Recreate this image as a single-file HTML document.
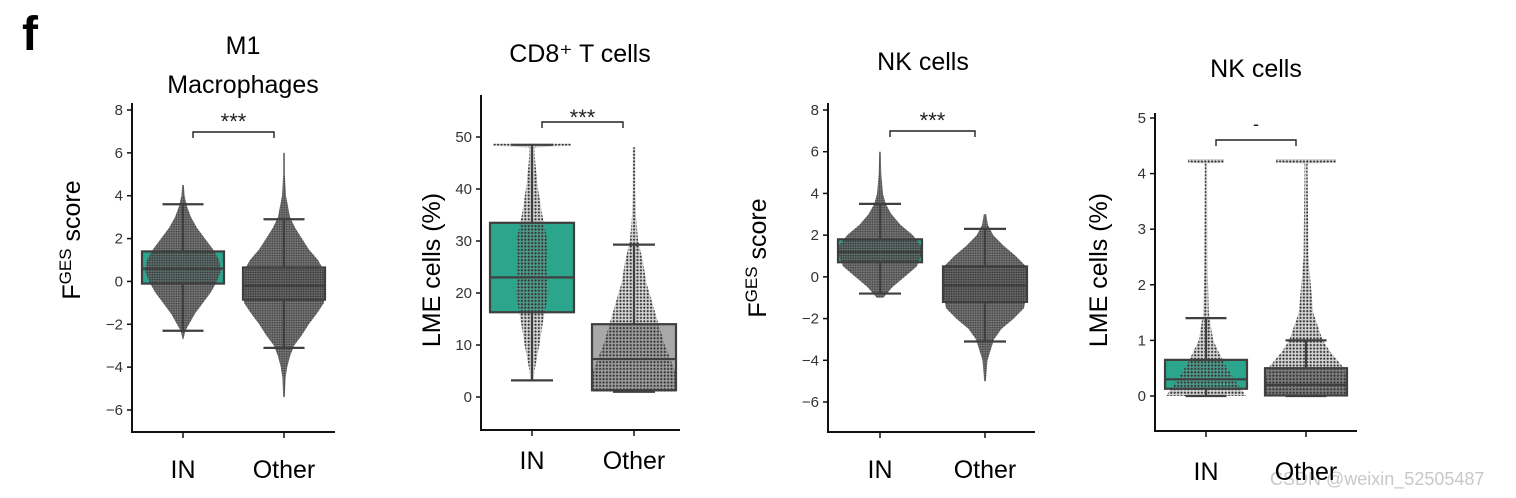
<!DOCTYPE html>
<html><head><meta charset="utf-8">
<style>
html,body{margin:0;padding:0;background:#fff;width:1516px;height:498px;overflow:hidden}
svg{display:block;font-family:"Liberation Sans",sans-serif}
</style></head>
<body>
<svg id="fig" width="1516" height="498" viewBox="0 0 1516 498">
<defs>
<pattern id="dense" width="2.4" height="2.4" patternUnits="userSpaceOnUse"><rect width="2.4" height="2.4" fill="#6a6a6a"/><circle cx="1.2" cy="1.2" r="0.9" fill="#2e2e2e"/></pattern>
<pattern id="sparse" width="3.4" height="3.4" patternUnits="userSpaceOnUse"><rect width="3.4" height="3.4" fill="#8a8a8a" fill-opacity="0.35"/><circle cx="1.7" cy="1.7" r="1.1" fill="#333"/></pattern>
</defs>
<text x="22" y="50" font-size="48" font-weight="bold">f</text>
<text x="1270" y="485" font-size="18" fill="#c8c8c8">CSDN @weixin_52505487</text>
</svg>
<script>
// ---- data arrays ----
const categories = ["IN", "Other"];
const p1Boxes = [[-2.3,-0.1,0.6,1.4,3.6],[-3.1,-0.85,-0.2,0.65,2.9]];
const p2Boxes = [[3.2,16.3,23,33.5,48.5],[1,1.3,7.3,14,29.3]];
const p3Boxes = [[-0.8,0.7,1.2,1.8,3.5],[-3.1,-1.2,-0.4,0.5,2.3]];
const p4Boxes = [[0,0.13,0.3,0.65,1.4],[0,0.01,0.2,0.5,1.0]];
const p1Ticks = [-6,-4,-2,0,2,4,6,8];
const p2Ticks = [0,10,20,30,40,50];
const p3Ticks = [-6,-4,-2,0,2,4,6,8];
const p4Ticks = [0,1,2,3,4,5];
// swarm density profiles: [value, relative width]
const p1SwarmIN = [[-2.7,0.01],[-2.3,0.06],[-2,0.15],[-1.5,0.3],[-1,0.5],[-0.5,0.7],[0,0.85],[0.5,0.95],[1,0.9],[1.5,0.75],[2,0.55],[2.5,0.35],[3,0.2],[3.5,0.1],[4,0.04],[4.5,0.02]];
const p1SwarmOther = [[-5.4,0.02],[-4.5,0.04],[-4,0.08],[-3.5,0.15],[-3,0.25],[-2.5,0.45],[-2,0.62],[-1.5,0.82],[-1,1],[-0.5,1],[0,1],[0.5,1],[1,0.85],[1.5,0.62],[2,0.45],[2.5,0.28],[3,0.15],[3.5,0.1],[4,0.05],[5,0.02],[6,0.02]];
const p2SwarmIN = [[3,0.03],[5,0.06],[10,0.18],[15,0.28],[20,0.4],[25,0.35],[30,0.38],[35,0.25],[40,0.15],[45,0.08],[48,0.06],[48.3,0.95],[48.7,0.95]];
const p2SwarmOther = [[1,1],[3,1],[5,1],[7,0.9],[10,0.75],[14,0.6],[18,0.45],[22,0.3],[26,0.22],[30,0.1],[35,0.05],[40,0.03],[48,0.03]];
const p3SwarmIN = [[-1,0.08],[-0.5,0.3],[0,0.6],[0.5,0.9],[1,1],[1.5,1],[2,0.8],[2.5,0.5],[3,0.28],[3.5,0.14],[4,0.07],[5,0.03],[6,0.02]];
const p3SwarmOther = [[-5,0.02],[-4,0.06],[-3,0.22],[-2.5,0.4],[-2,0.7],[-1.5,0.95],[-1,1],[-0.5,1],[0,1],[0.5,1],[1,0.75],[1.5,0.45],[2,0.2],[2.5,0.07],[3,0.03]];
const p4SwarmIN = [[0,1],[0.1,0.9],[0.3,0.7],[0.6,0.45],[1,0.18],[1.5,0.07],[2.3,0.04],[4,0.03],[4.18,0.03],[4.2,0.45],[4.26,0.45]];
const p4SwarmOther = [[0,1],[0.3,1],[0.5,0.95],[0.8,0.6],[1,0.42],[1.5,0.18],[2.5,0.06],[4,0.04],[4.18,0.04],[4.2,0.75],[4.26,0.75]];

const NS="http://www.w3.org/2000/svg";
const svg=document.getElementById('fig');
function mk(tag,attrs,parent){const e=document.createElementNS(NS,tag);for(const k in attrs)e.setAttribute(k,attrs[k]);(parent||svg).appendChild(e);return e;}

const panels=[
 {key:"m1",ax:132,top:103,bot:432,right:335,v0:8,y0:110,v1:-6,y1:410,xs:[183,284],bw:82,boxes:p1Boxes,ticks:p1Ticks,sw:[p1SwarmIN,p1SwarmOther],pat:"dense",otherFace:"#777",
  titles:[["M1",243,54],["Macrophages",243,93]],ylab:"score",sup:true,ylx:80,yly:240,br:[193,274,132,"***",121],lab:478},
 {key:"cd8",ax:481,top:95,bot:430,right:680,v0:50,y0:137,v1:0,y1:397,xs:[532,634],bw:84,boxes:p2Boxes,ticks:p2Ticks,sw:[p2SwarmIN,p2SwarmOther],pat:"sparse",otherFace:"#a8a8a8",
  titles:[["CD8\u207A T cells",580,62]],ylab:"LME cells (%)",sup:false,ylx:440,yly:270,br:[542,623,122,"***",117],lab:469},
 {key:"nk-fges",ax:828,top:103,bot:432,right:1035,v0:8,y0:110,v1:-6,y1:402,xs:[880,985],bw:84,boxes:p3Boxes,ticks:p3Ticks,sw:[p3SwarmIN,p3SwarmOther],pat:"dense",otherFace:"#777",
  titles:[["NK cells",923,70]],ylab:"score",sup:true,ylx:766,yly:258,br:[890,975,131,"***",120],lab:478},
 {key:"nk-lme",ax:1155,top:113,bot:431,right:1357,v0:5,y0:118,v1:0,y1:396,xs:[1206,1306],bw:82,boxes:p4Boxes,ticks:p4Ticks,sw:[p4SwarmIN,p4SwarmOther],pat:"sparse",otherFace:"#777",
  titles:[["NK cells",1256,77]],ylab:"LME cells (%)",sup:false,ylx:1107,yly:270,br:[1216,1296,140,"-",130],lab:480}
];

panels.forEach(p=>{
 const g=mk('g',{},svg);
 
 
 const Y=v=>p.y0+(v-p.v0)*(p.y1-p.y0)/(p.v1-p.v0);
 p.titles.forEach(t=>{const e=mk('text',{x:t[1],y:t[2],'font-size':25,'text-anchor':'middle'},g);e.textContent=t[0];
  
  });
 const ya=mk('line',{x1:p.ax,y1:p.top,x2:p.ax,y2:p.bot,stroke:'#111','stroke-width':2},g);
 
 
 const xa=mk('line',{x1:p.ax-1,y1:p.bot,x2:p.right,y2:p.bot,stroke:'#111','stroke-width':2},g);
 
 
 p.ticks.forEach(t=>{const y=Y(t);mk('line',{x1:p.ax-5,y1:y,x2:p.ax,y2:y,stroke:'#111','stroke-width':1.5},g);
  const e=mk('text',{x:p.ax-9,y:y+5,'font-size':15,'text-anchor':'end',fill:'#333'},g);e.textContent=t<0?'\u2212'+(-t):String(t);
  
  });
 const yl=mk('text',{transform:`translate(${p.ylx},${p.yly}) rotate(-90)`,'font-size':25,'text-anchor':'middle'},g);
 
 
 if(p.sup){const a=mk('tspan',{},yl);a.textContent='F';const b=mk('tspan',{dy:-9,'font-size':17},yl);b.textContent='GES';const c=mk('tspan',{dy:9},yl);c.textContent=' score';}
 else yl.textContent=p.ylab;
 p.xs.forEach((x,i)=>{
  mk('line',{x1:x,y1:p.bot,x2:x,y2:p.bot+6,stroke:'#111','stroke-width':1.5},g);
  const e=mk('text',{x:x,y:p.lab,'font-size':25,'text-anchor':'middle'},g);e.textContent=categories[i];
  
  
  const b=p.boxes[i];const hw=p.bw/2;
  const face=mk('rect',{x:x-hw,y:Y(b[3]),width:p.bw,height:Y(b[1])-Y(b[3]),fill:i==0?'#2ca58d':p.otherFace},g);
  
  
  const prof=p.sw[i];let pts=[];
  prof.forEach(d=>pts.push([x+d[1]*(hw-1),Y(d[0])]));
  for(let k=prof.length-1;k>=0;k--)pts.push([x-prof[k][1]*(hw-1),Y(prof[k][0])]);
  const sw=mk('polygon',{points:pts.map(q=>q[0].toFixed(1)+','+q[1].toFixed(1)).join(' '),fill:`url(#${p.pat})`,opacity:p.pat=='dense'?0.9:1},g);
  
  
  const st={stroke:'#3f3f3f','stroke-width':2.2,fill:'none'};
  mk('line',Object.assign({x1:x,y1:Y(b[0]),x2:x,y2:Y(b[1])},st),g);
  mk('line',Object.assign({x1:x,y1:Y(b[3]),x2:x,y2:Y(b[4])},st),g);
  mk('line',Object.assign({x1:x-hw/2,y1:Y(b[0]),x2:x+hw/2,y2:Y(b[0])},st),g);
  mk('line',Object.assign({x1:x-hw/2,y1:Y(b[4]),x2:x+hw/2,y2:Y(b[4])},st),g);
  mk('rect',Object.assign({x:x-hw,y:Y(b[3]),width:p.bw,height:Y(b[1])-Y(b[3])},st),g);
  const md=mk('line',Object.assign({x1:x-hw,y1:Y(b[2]),x2:x+hw,y2:Y(b[2])},st),g);
  
  
 });
 const br=p.br;
 const bp=mk('path',{d:`M${br[0]},${br[2]+6}V${br[2]}H${br[1]}V${br[2]+6}`,stroke:'#222','stroke-width':1.4,fill:'none'},g);
 
 
 const st=mk('text',{x:(br[0]+br[1])/2,y:br[4]+(br[3]=='***'?8:0),'font-size':br[3]=='***'?22:18,'text-anchor':'middle',fill:'#222'},g);
 st.textContent=br[3];
 
 
});
</script>
</body></html>
